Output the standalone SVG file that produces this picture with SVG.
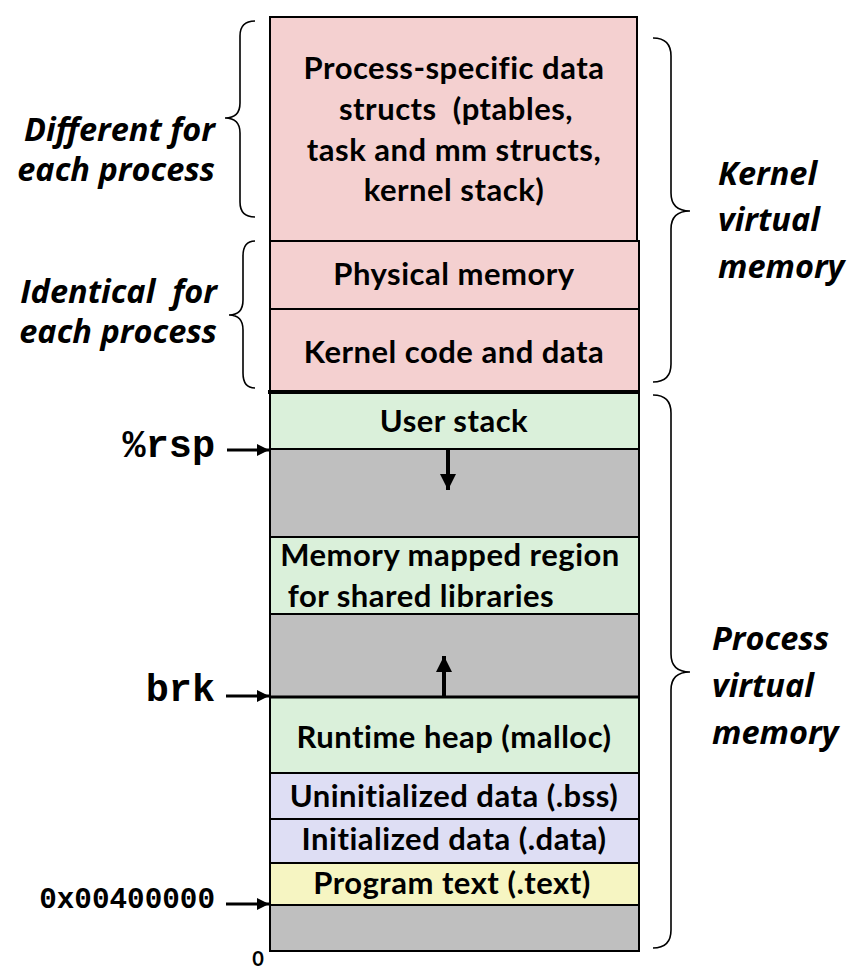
<svg xmlns="http://www.w3.org/2000/svg" width="863" height="972" viewBox="0 0 863 972">
<defs>
<style>
.box{stroke:#000;stroke-width:2}
.pink{fill:#F4D0D0}.green{fill:#DAF0DA}.lav{fill:#DEDEF4}.yel{fill:#F6F5C2}.gray{fill:#BFBFBF}
.t{font-family:Lato,"Open Sans",sans-serif;font-weight:bold;font-size:31px;letter-spacing:0.5px;fill:#000;text-anchor:middle}
.it{font-family:"Open Sans",Lato,sans-serif;font-weight:bold;font-style:italic;font-size:32.5px;fill:#000}
.mono{font-family:"Liberation Mono","DejaVu Sans Mono",monospace;font-weight:bold;fill:#000}
.brace{fill:none;stroke:#000;stroke-width:1.6}
.arr{stroke:#000;fill:none}
</style>
<marker id="ah" viewBox="0 0 10 10" refX="10" refY="5" markerWidth="4" markerHeight="4" orient="auto" markerUnits="strokeWidth">
<path d="M0,0 L10,5 L0,10 Z" fill="#000"/>
</marker>
</defs>

<g id="kernel-process-specific"><rect class="box pink" x="270" y="17" width="367" height="224"/>
<text class="t" x="454" y="79">Process-specific data</text>
<text class="t" x="456" y="120" xml:space="preserve">structs  (ptables,</text>
<text class="t" x="454" y="161">task and mm structs,</text>
<text class="t" x="454" y="201">kernel stack)</text></g>
<g id="physical-memory"><rect class="box pink" x="270" y="241" width="369" height="68"/>
<text class="t" x="454" y="285">Physical memory</text></g>
<g id="kernel-code"><rect class="box pink" x="270" y="309" width="369" height="83"/>
<text class="t" x="454" y="363">Kernel code and data</text></g>

<g id="user-stack"><rect class="box green" x="270" y="392" width="369" height="57"/>
<text class="t" x="454" y="432">User stack</text></g>
<g id="gap1"><rect class="box gray" x="270" y="449" width="369" height="88"/></g>
<g id="mmap"><rect class="box green" x="270" y="537" width="369" height="77"/>
<text class="t" x="450" y="566">Memory mapped region</text>
<text class="t" x="421" y="607">for shared libraries</text></g>
<g id="gap2"><rect class="box gray" x="270" y="614" width="369" height="83"/></g>
<g id="heap"><rect class="box green" x="270" y="697" width="369" height="76"/>
<text class="t" x="454" y="748">Runtime heap (malloc)</text></g>
<g id="bss"><rect class="box lav" x="270" y="773" width="369" height="46"/>
<text class="t" x="454" y="807">Uninitialized data (.bss)</text></g>
<g id="data"><rect class="box lav" x="270" y="819" width="369" height="44"/>
<text class="t" x="454" y="850">Initialized data (.data)</text></g>
<g id="text"><rect class="box yel" x="270" y="863" width="369" height="42"/>
<text class="t" x="452" y="894">Program text (.text)</text></g>
<g id="gap3"><rect class="box gray" x="270" y="905" width="369" height="46"/></g>

<g id="connectors">
<line x1="268" y1="392" x2="640" y2="392" stroke="#000" stroke-width="4"/>
<line x1="270" y1="697" x2="639" y2="697" stroke="#000" stroke-width="3"/>
<line class="arr" x1="448" y1="450" x2="448" y2="490" style="stroke-width:4" marker-end="url(#ah)"/>
<line class="arr" x1="444" y1="696" x2="444" y2="656" style="stroke-width:4" marker-end="url(#ah)"/>
<line class="arr" x1="227" y1="450" x2="269" y2="450" style="stroke-width:3" marker-end="url(#ah)"/>
<line class="arr" x1="226" y1="696" x2="269" y2="696" style="stroke-width:3" marker-end="url(#ah)"/>
<line class="arr" x1="226" y1="904" x2="269" y2="904" style="stroke-width:3" marker-end="url(#ah)"/>
<path class="brace" d="M255,21 Q240,21 240,36 L240,103 Q240,118 225,118 Q240,118 240,133 L240,202 Q240,217 255,217"/>
<path class="brace" d="M255,241 Q243,241 243,256 L243,300 Q243,315 229,315 Q243,315 243,330 L243,373 Q243,388 255,388"/>
<path class="brace" d="M653,38 Q671,38 671,56 L671,193 Q671,211 690,211 Q671,211 671,229 L671,364 Q671,382 653,382"/>
<path class="brace" d="M653,395 Q671,395 671,413 L671,654 Q671,672 690,672 Q671,672 671,690 L671,930 Q671,948 653,948"/>
</g>

<g id="labels">
<text class="it" x="215" y="141" text-anchor="end">Different for</text>
<text class="it" x="215" y="181" text-anchor="end">each process</text>
<text class="it" x="217" y="303" text-anchor="end" xml:space="preserve">Identical  for</text>
<text class="it" x="217" y="343" text-anchor="end">each process</text>
<text class="it" x="718" y="185">Kernel</text>
<text class="it" x="718" y="231">virtual</text>
<text class="it" x="718" y="278">memory</text>
<text class="it" x="712" y="650">Process</text>
<text class="it" x="712" y="697">virtual</text>
<text class="it" x="712" y="744">memory</text>
<text class="mono" x="215" y="457" font-size="38.5" text-anchor="end">%rsp</text>
<text class="mono" x="215" y="701" font-size="38.5" text-anchor="end">brk</text>
<text class="mono" x="215" y="908" font-size="29.3" text-anchor="end">0x00400000</text>
<text x="258" y="966" font-family="Lato,sans-serif" font-weight="bold" font-size="20" text-anchor="middle">0</text>
</g>
</svg>
